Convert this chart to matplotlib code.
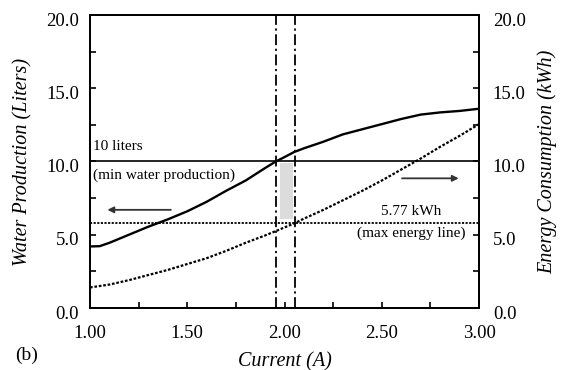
import matplotlib.pyplot as plt
from matplotlib.ticker import MultipleLocator
from matplotlib.transforms import ScaledTranslation

plt.rcParams['font.family'] = ['Liberation Serif', 'DejaVu Serif']

# current (A)
current = [1.00, 1.05, 1.10, 1.20, 1.30, 1.40, 1.50, 1.60, 1.70, 1.80, 1.90, 1.955,
           2.00, 2.05, 2.10, 2.20, 2.30, 2.40, 2.50, 2.60, 2.70, 2.80, 2.90, 3.00]
# water production (liters)
water = [4.2, 4.22, 4.45, 5.0, 5.55, 6.05, 6.6, 7.25, 8.0, 8.7, 9.55, 10.0,
         10.3, 10.65, 10.9, 11.35, 11.85, 12.2, 12.55, 12.9, 13.2, 13.35, 13.45, 13.6]
# energy consumption (kWh)
energy = [1.4, 1.5, 1.6, 1.9, 2.25, 2.6, 3.0, 3.4, 3.9, 4.45, 4.95, 5.25,
          5.5, 5.77, 6.1, 6.7, 7.35, 8.0, 8.7, 9.45, 10.2, 11.0, 11.75, 12.55]

min_water = 10.0
max_energy = 5.77
i_low, i_high = 1.955, 2.055

fig = plt.figure(figsize=(5.64, 3.70), dpi=100)
ax = fig.add_axes([0.1596, 0.1676, 0.6897, 0.7919])
ax2 = ax.twinx()

ax.plot(current, water, color='black', lw=1.7)
ax2.plot(current, energy, color='black', lw=1.6, linestyle=(0, (1.2, 0.8)))

# limit lines
ax.axhline(min_water, color='black', lw=1.2)
ax.axhline(max_energy, color='black', lw=1.3, linestyle=(0, (1.2, 0.8)))
ax.axvline(i_low, color='black', lw=1.3, linestyle=(0, (6, 2, 1.2, 2)))
ax.axvline(i_high, color='black', lw=1.3, linestyle=(0, (6, 2, 1.2, 2)))

# feasible zone
ax.fill_between([1.975, 2.045], 6.05, 9.9, color='#dcdcdc', lw=0)

ax.text(1.015, 11.0, '10 liters', fontsize=11, va='center')
ax.text(1.015, 9.05, '(min water production)', fontsize=11, va='center')
ax.text(2.65, 6.6, '5.77 kWh', fontsize=11, ha='center', va='center')
ax.text(2.65, 5.1, '(max energy line)', fontsize=11, ha='center', va='center')

ax.annotate('', xy=(1.075, 6.7), xytext=(1.43, 6.7),
            arrowprops=dict(arrowstyle='-|>', color='#333333', lw=1.3,
                            mutation_scale=9))
ax.annotate('', xy=(2.91, 8.85), xytext=(2.59, 8.85),
            arrowprops=dict(arrowstyle='-|>', color='#333333', lw=1.3,
                            mutation_scale=9))

for a in (ax, ax2):
    a.set_xlim(1.0, 3.0)
    a.set_ylim(0, 20)
    a.yaxis.set_major_locator(MultipleLocator(5))
    a.yaxis.set_minor_locator(MultipleLocator(2.5))
    for s in a.spines.values():
        s.set_linewidth(1.3)

ax.xaxis.set_major_locator(MultipleLocator(0.5))
ax.xaxis.set_minor_locator(MultipleLocator(0.25))
ax.xaxis.set_major_formatter(lambda v, p: '%.2f' % v)
ax.yaxis.set_major_formatter(lambda v, p: '%.1f' % v)
ax2.yaxis.set_major_formatter(lambda v, p: '%.1f' % v)

ax.tick_params(axis='x', which='both', direction='in', length=4, width=1.2,
               labelsize=13.5, pad=12)
ax.tick_params(axis='y', which='both', direction='in', length=4, width=1.2,
               labelsize=13.5, pad=8)
ax2.tick_params(axis='y', which='both', direction='in', length=4, width=1.2,
                labelsize=13.5, pad=10)

# y tick labels sit a little below their ticks in the original
shift = ScaledTranslation(0, -3 / 72, fig.dpi_scale_trans)
for t in ax.yaxis.get_major_ticks():
    t.label1.set_transform(t.label1.get_transform() + shift)
for t in ax2.yaxis.get_major_ticks():
    t.label2.set_transform(t.label2.get_transform() + shift)

ax.set_xlabel('Current (A)', fontsize=14.5, style='italic')
ax.set_ylabel('Water Production (Liters)', fontsize=14.5, style='italic')
ax2.set_ylabel('Energy Consumption (kWh)', fontsize=14.5, style='italic')
ax.xaxis.set_label_coords(0.501, -0.15)
ax.yaxis.set_label_coords(-0.147, 0.5)
ax2.yaxis.set_label_coords(1.15, 0.5)

fig.text(0.026, 0.04, '(b)', fontsize=14, va='center')

fig.savefig('out.png', dpi=100)
